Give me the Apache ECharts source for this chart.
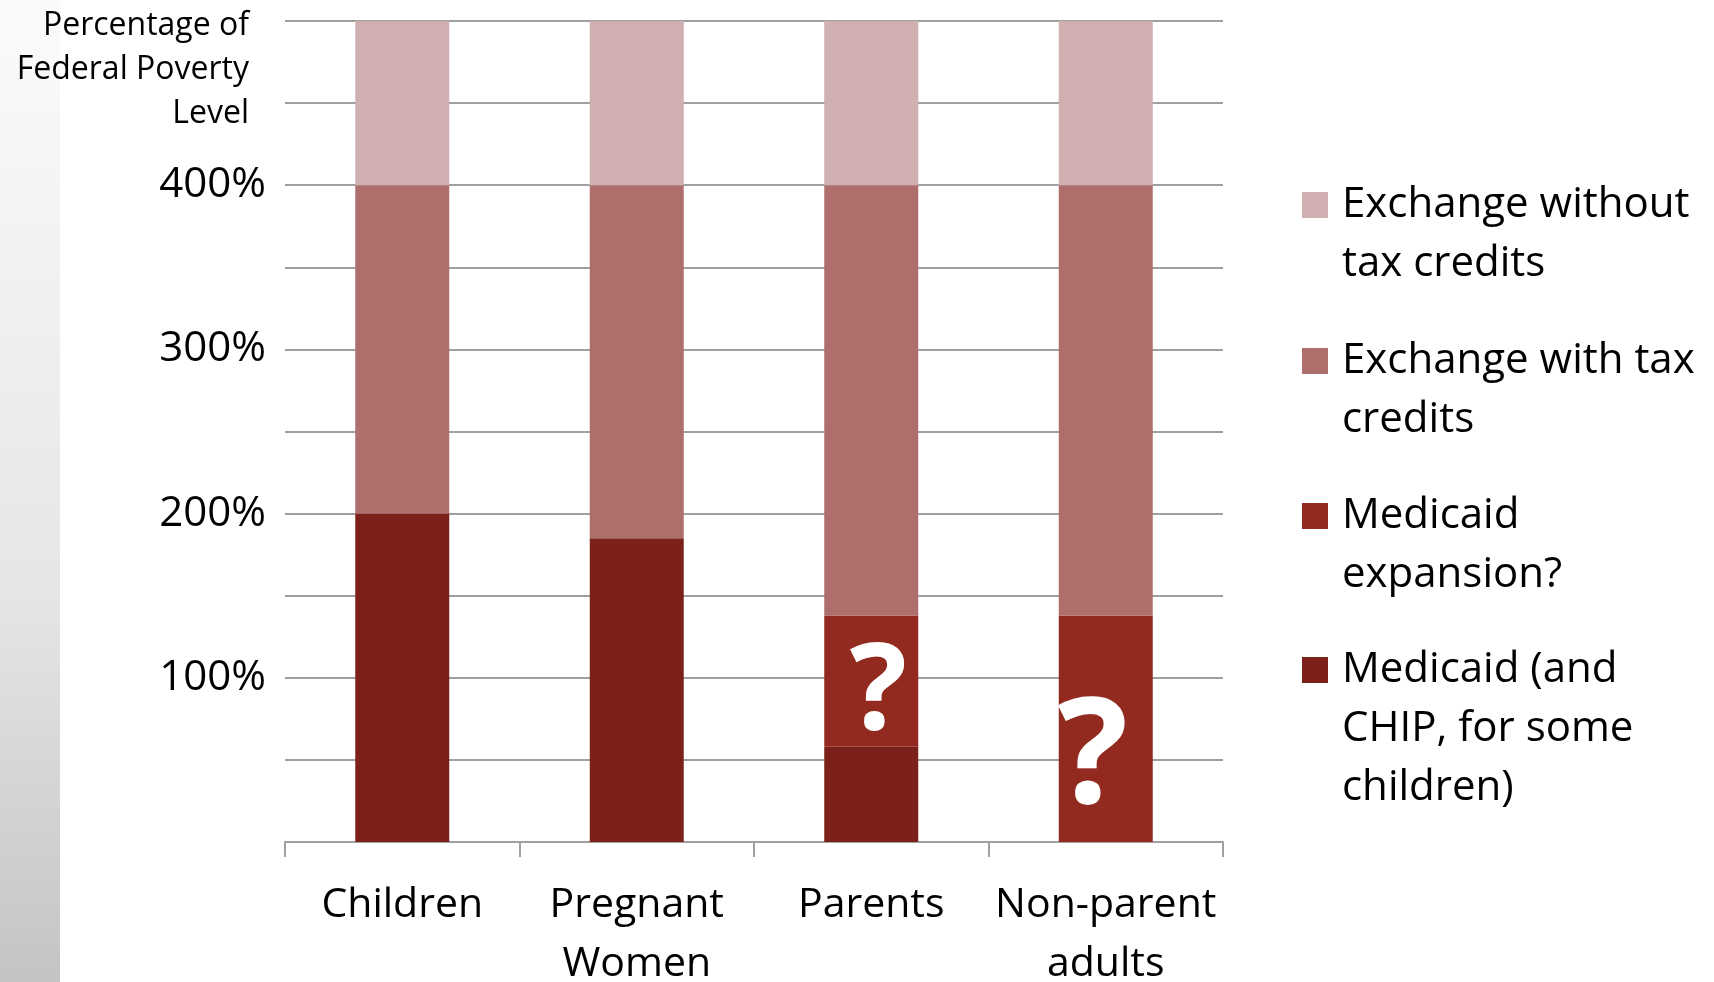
<!DOCTYPE html>
<html>
<head>
<meta charset="utf-8">
<script src="https://cdn.jsdelivr.net/npm/echarts@6/dist/echarts.min.js"></script>
<style>
html,body{margin:0;padding:0;background:#fff;}
#chart{width:1714px;height:982px;}
</style>
</head>
<body>
<div id="chart"></div>
<script>
// ---- data ----
const categories = ['Children', 'Pregnant\nWomen', 'Parents', 'Non-parent\nadults'];
const medicaid = [200, 185, 58, 0];
const medicaidExpansion = [0, 0, 80, 138];
const exchangeWithCredits = [200, 215, 262, 262];
const exchangeWithoutCredits = [100, 100, 100, 100];
const yTickLabels = [100, 200, 300, 400];
const seriesNames = ['Exchange without\ntax credits', 'Exchange with tax\ncredits', 'Medicaid\nexpansion?', 'Medicaid (and\nCHIP, for some\nchildren)'];
const questionMarks = ['', '', '?', '?'];

// ---- styles ----
const colors = {
  without: '#cfafb0',
  withc: '#ae6f6c',
  expansion: '#922a1f',
  medicaid: '#7b2119'
};
const FONT = '"Open Sans", "DejaVu Sans", sans-serif';
const qStyles = [null, null, {fontSize: 120, offset: [7, 14]}, {fontSize: 148, offset: [-13, 32]}];

const chart = echarts.init(document.getElementById('chart'), null, {renderer: 'canvas'});

function legendFor(name, color, centerY) {
  const lh = 59;
  const lines = name.split('\n').length;
  const blanks = lines - 1;
  const blockH = (blanks + lines) * lh;
  const lead = new Array(blanks + 1).join('\n');
  return {
    show: true,
    orient: 'vertical',
    left: 1302,
    top: centerY - blockH / 2,
    padding: 0,
    itemWidth: 26,
    itemHeight: 26,
    icon: 'rect',
    selectedMode: false,
    data: [{name: name, itemStyle: {color: color}}],
    formatter: function (n) { return lead + n; },
    textStyle: {
      fontFamily: FONT,
      fontSize: 42,
      lineHeight: lh,
      color: '#000',
      padding: [0, 0, 0, 9]
    }
  };
}

const option = {
  animation: false,
  backgroundColor: '#fff',
  graphic: [
    {
      type: 'rect',
      left: 0, top: 0, z: -10,
      shape: {x: 0, y: 0, width: 60, height: 982},
      style: {
        fill: new echarts.graphic.LinearGradient(0, 0, 0, 1, [
          {offset: 0, color: '#fbfbfb'},
          {offset: 0.6, color: '#e5e6e7'},
          {offset: 1, color: '#c3c4c6'}
        ])
      }
    },
    {
      type: 'text',
      x: 249, y: 4,
      style: {
        text: 'Percentage of\nFederal Poverty\nLevel',
        textAlign: 'right',
        fontFamily: FONT,
        fontSize: 32,
        lineHeight: 44,
        fill: '#000'
      }
    }
  ],
  legend: [
    legendFor(seriesNames[0], colors.without, 205),
    legendFor(seriesNames[1], colors.withc, 361),
    legendFor(seriesNames[2], colors.expansion, 516),
    legendFor(seriesNames[3], colors.medicaid, 670)
  ],
  grid: {left: 285, right: 491, top: 21, bottom: 140, containLabel: false, outerBoundsMode: 'none'},
  xAxis: {
    type: 'category',
    data: categories,
    boundaryGap: true,
    axisLine: {lineStyle: {color: '#a0a0a0', width: 2}},
    axisTick: {show: true, length: 15, alignWithLabel: false, lineStyle: {color: '#a0a0a0', width: 2}},
    axisLabel: {
      fontFamily: FONT, fontSize: 41, color: '#000',
      lineHeight: 59, margin: 34, interval: 0
    },
    splitLine: {show: false}
  },
  yAxis: {
    type: 'value',
    min: 0, max: 500, interval: 50,
    axisLine: {show: false},
    axisTick: {show: false},
    splitLine: {lineStyle: {color: '#a0a0a0', width: 2}},
    axisLabel: {
      fontFamily: FONT, fontSize: 42, color: '#000', margin: 19,
      formatter: function (v) { return yTickLabels.indexOf(v) >= 0 ? v + '%' : ''; }
    }
  },
  series: [
    {
      name: seriesNames[3], type: 'bar', stack: 'fpl', barWidth: 94,
      itemStyle: {color: colors.medicaid},
      data: medicaid
    },
    {
      name: seriesNames[2], type: 'bar', stack: 'fpl', barWidth: 94,
      itemStyle: {color: colors.expansion},
      data: medicaidExpansion.map(function (v, i) {
        const q = qStyles[i];
        if (!questionMarks[i] || !q) return v;
        return {
          value: v,
          label: {
            show: true, position: 'inside', formatter: questionMarks[i],
            color: '#fff', fontFamily: FONT, fontWeight: 'bold',
            fontSize: q.fontSize, offset: q.offset
          }
        };
      })
    },
    {
      name: seriesNames[1], type: 'bar', stack: 'fpl', barWidth: 94,
      itemStyle: {color: colors.withc},
      data: exchangeWithCredits
    },
    {
      name: seriesNames[0], type: 'bar', stack: 'fpl', barWidth: 94,
      itemStyle: {color: colors.without},
      data: exchangeWithoutCredits
    }
  ]
};
chart.setOption(option);
</script>
</body>
</html>
